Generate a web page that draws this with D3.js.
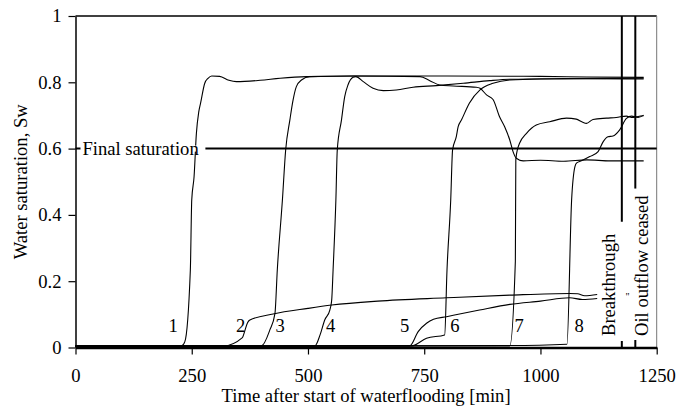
<!DOCTYPE html>
<html>
<head>
<meta charset="utf-8">
<script src="https://cdn.jsdelivr.net/npm/d3@7"></script>
</head>
<body style="margin:0;background:#fff">
<div id="chart"></div>
<script>
// water saturation curves, [time (min), Sw]
const curve1 = [[0,0.004],[228,0.005],[235,0.017],[247,0.234],[250,0.445],[255,0.515],[260,0.646],[265,0.71],[269,0.737],[278,0.797],[285,0.812],[293,0.819],[310,0.818],[330,0.806],[346,0.802],[397,0.806],[440,0.812],[497,0.817],[600,0.819],[800,0.819],[1000,0.818],[1100,0.816],[1222,0.815]];
const curve2 = [[0,0.004],[318,0.005],[359,0.030],[363,0.045],[370,0.075],[375,0.083],[425,0.101],[500,0.118],[551,0.128],[650,0.140],[798,0.150],[934,0.158],[1063,0.163],[1080,0.162],[1095,0.156],[1122,0.160]];
const curve3 = [[0,0.004],[400,0.005],[418,0.053],[429,0.103],[434,0.234],[445,0.445],[452,0.596],[461,0.686],[468,0.747],[475,0.787],[486,0.807],[504,0.817],[600,0.819],[741,0.817],[762,0.805],[783,0.792],[812,0.789],[862,0.785],[870,0.782],[884,0.762],[898,0.748],[912,0.696],[923,0.666],[934,0.626],[941,0.591],[948,0.571],[963,0.563],[1000,0.565],[1050,0.562],[1100,0.566],[1150,0.563],[1222,0.563]];
const curve4 = [[0,0.004],[515,0.005],[526,0.038],[536,0.083],[547,0.113],[551,0.143],[554,0.234],[560,0.445],[563,0.596],[572,0.686],[579,0.757],[586,0.792],[597,0.815],[603,0.817],[619,0.802],[640,0.782],[662,0.775],[690,0.777],[726,0.785],[776,0.790],[834,0.797],[891,0.805],[934,0.809],[1050,0.811],[1222,0.812]];
const curve5 = [[0,0.004],[719,0.005],[737,0.048],[755,0.073],[770,0.085],[798,0.093],[869,0.113],[934,0.130],[1000,0.140],[1063,0.150],[1090,0.145],[1122,0.148]];
const curve6 = [[0,0.004],[723,0.005],[755,0.028],[794,0.038],[799,0.234],[807,0.445],[811,0.596],[819,0.636],[823,0.666],[830,0.686],[847,0.737],[870,0.777],[898,0.797],[934,0.807],[1000,0.810],[1100,0.811],[1222,0.810]];
const curve7 = [[0,0.004],[934,0.005],[946,0.26],[947,0.566],[951,0.600],[955,0.616],[970,0.646],[991,0.671],[1020,0.681],[1056,0.692],[1077,0.689],[1090,0.680],[1099,0.676],[1113,0.688],[1142,0.692],[1163,0.694],[1185,0.698],[1196,0.694],[1210,0.697],[1222,0.699]];
const curve8 = [[0,0.004],[934,0.006],[1057,0.010],[1067,0.445],[1074,0.545],[1078,0.557],[1088,0.563],[1106,0.576],[1124,0.591],[1135,0.621],[1145,0.636],[1156,0.638],[1170,0.656],[1185,0.691],[1196,0.698],[1210,0.694],[1222,0.701]];
const curves = [curve1, curve2, curve3, curve4, curve5, curve6, curve7, curve8];

const curveLabels = ["1", "2", "3", "4", "5", "6", "7", "8"];
const labelTimes = [210, 355, 440, 549, 708, 816, 954, 1083];
const labelSw = 0.047;

const finalSaturation = 0.6;
const breakthroughTime = 1175;
const oilCeasedTime = 1204;

const xTicks = [0, 250, 500, 750, 1000, 1250];
const yTicks = [0, 0.2, 0.4, 0.6, 0.8, 1];
const yTickLabels = ["0", "0.2", "0.4", "0.6", "0.8", "1"];

const width = 688, height = 411;
const margin = {top: 16, right: 31.3, bottom: 63.5, left: 75.5};
const serif = "'Liberation Serif', 'Times New Roman', serif";
const fs = 18.6;

const svg = d3.select("#chart")
    .append("svg")
    .attr("width", width)
    .attr("height", height)
    .style("display", "block")
    .style("font-family", serif);

const x = d3.scaleLinear().domain([0, 1250]).range([margin.left, width - margin.right]);
const y = d3.scaleLinear().domain([0, 1]).range([height - margin.bottom, margin.top]);

// frame: top and right border
svg.append("line")
    .attr("x1", x(0)).attr("x2", x(1250))
    .attr("y1", y(1)).attr("y2", y(1))
    .attr("stroke", "#000").attr("stroke-width", 1.4);
svg.append("line")
    .attr("x1", x(1250)).attr("x2", x(1250))
    .attr("y1", y(1)).attr("y2", y(0))
    .attr("stroke", "#777").attr("stroke-width", 1);

// curves
const line = d3.line()
    .x(d => x(d[0]))
    .y(d => y(d[1]))
    .curve(d3.curveMonotoneX);

svg.selectAll(".sw")
    .data(curves)
    .join("path")
    .attr("class", "sw")
    .attr("d", line)
    .attr("fill", "none")
    .attr("stroke", "#000")
    .attr("stroke-width", 1.1);

// final saturation line with label
svg.append("line")
    .attr("x1", x(0)).attr("x2", x(1250))
    .attr("y1", y(finalSaturation)).attr("y2", y(finalSaturation))
    .attr("stroke", "#000").attr("stroke-width", 2);

const fsBg = svg.append("rect").attr("fill", "#fff");
const fsText = svg.append("text")
    .attr("x", x(0) + 7)
    .attr("y", y(finalSaturation))
    .attr("dy", "0.33em")
    .style("font-family", serif)
    .attr("font-size", fs)
    .text("Final saturation");
const fsBox = fsText.node().getBBox();
fsBg.attr("x", fsBox.x - 2).attr("y", y(finalSaturation) - 3)
    .attr("width", fsBox.width + 8).attr("height", 6);

// curve numbers
svg.selectAll(".num")
    .data(curveLabels)
    .join("text")
    .attr("class", "num")
    .attr("x", (d, i) => x(labelTimes[i]))
    .attr("y", y(labelSw))
    .attr("text-anchor", "middle")
    .style("font-family", serif)
    .attr("font-size", fs)
    .text(d => d);

// vertical event lines with rotated text
const events = [
    {t: breakthroughTime, label: "Breakthrough", dx: -6.5, gapTop: 12, gapBot: 5},
    {t: oilCeasedTime, label: "Oil outflow ceased", dx: 12.5, gapTop: 7, gapBot: 4}
];
const textBottom = 336;
events.forEach(ev => {
    const tx = x(ev.t) + ev.dx;
    const txt = svg.append("text")
        .attr("transform", `translate(${tx},${textBottom}) rotate(-90)`)
        .style("font-family", serif)
        .attr("font-size", fs)
        .text(ev.label);
    const len = txt.node().getComputedTextLength();
    svg.append("line")
        .attr("x1", x(ev.t)).attr("x2", x(ev.t))
        .attr("y1", y(1)).attr("y2", textBottom - len - ev.gapTop)
        .attr("stroke", "#000").attr("stroke-width", 2);
    svg.append("line")
        .attr("x1", x(ev.t)).attr("x2", x(ev.t))
        .attr("y1", textBottom + ev.gapBot).attr("y2", y(0))
        .attr("stroke", "#000").attr("stroke-width", 2);
});

svg.append("text")
    .attr("x", (x(breakthroughTime) + x(oilCeasedTime)) / 2 - 1)
    .attr("y", 300)
    .attr("text-anchor", "middle")
    .style("font-family", serif)
    .attr("font-size", 10)
    .text("\"");

// axes
const xAxis = svg.append("g")
    .attr("transform", `translate(0,${y(0)})`)
    .call(d3.axisBottom(x).tickValues(xTicks).tickFormat(d3.format("d"))
        .tickSize(7).tickSizeOuter(0).tickPadding(14));

const yAxis = svg.append("g")
    .attr("transform", `translate(${x(0)},0)`)
    .call(d3.axisLeft(y).tickValues(yTicks).tickFormat((d, i) => yTickLabels[i])
        .tickSize(7).tickSizeOuter(0).tickPadding(7));

[xAxis, yAxis].forEach(g => {
    g.style("font-family", serif);
    g.selectAll("text").attr("font-size", fs).attr("fill", "#000")
        .style("font-family", serif);
    g.selectAll("line").attr("stroke", "#000").attr("stroke-width", 1.2);
});
xAxis.select(".domain").attr("stroke", "#000").attr("stroke-width", 2.5);
yAxis.select(".domain").attr("stroke", "#000").attr("stroke-width", 1.5);

// axis titles
svg.append("text")
    .attr("x", (x(0) + x(1250)) / 2)
    .attr("y", 402)
    .attr("text-anchor", "middle")
    .style("font-family", serif)
    .attr("font-size", fs)
    .text("Time after start of waterflooding [min]");

svg.append("text")
    .attr("transform", `translate(27,${(y(0) + y(1)) / 2}) rotate(-90)`)
    .attr("text-anchor", "middle")
    .style("font-family", serif)
    .attr("font-size", fs)
    .text("Water saturation, Sw");
</script>
</body>
</html>
